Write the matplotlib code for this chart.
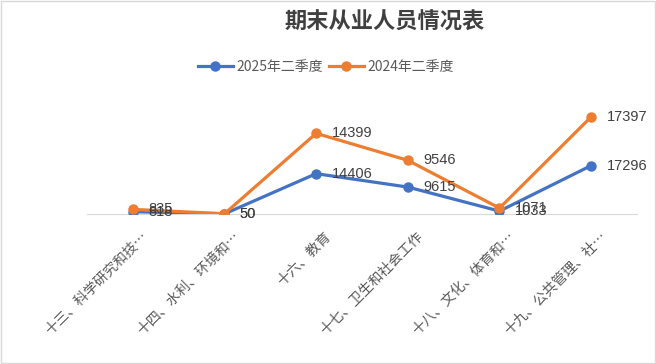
import matplotlib
matplotlib.use('Agg')
import matplotlib.pyplot as plt
from matplotlib.lines import Line2D
from matplotlib.patches import Rectangle
from matplotlib.transforms import ScaledTranslation
import numpy as np

plt.rcParams['font.family'] = ['Noto Sans CJK SC', 'DejaVu Sans']

# data
categories = ['十三、科学研究和技…', '十四、水利、环境和…', '十六、教育',
              '十七、卫生和社会工作', '十八、文化、体育和…', '十九、公共管理、社…']
q2_2025 = [818, 50, 14406, 9615, 1033, 17296]
q2_2024 = [835, 50, 14399, 9546, 1071, 17397]
series_names = ['2025年二季度', '2024年二季度']
colors = ['#4472C4', '#ED7D31']

fig = plt.figure(figsize=(6.56, 3.64), dpi=100)
ax = fig.add_axes([87/656, 150/364, 550/656, 112/364])

x = np.arange(len(categories))
# stacked line chart: the 2024 series sits on top of the 2025 series
base = np.array(q2_2025)
stacked = base + np.array(q2_2024)

for vals, shown, color in [(base, q2_2025, colors[0]), (stacked, q2_2024, colors[1])]:
    ax.plot(x, vals, color=color, lw=2.3, marker='o', markersize=6.5,
            solid_capstyle='round', zorder=3)
    for xi, yi, v in zip(x, vals, shown):
        ax.annotate(str(v), (xi, yi), xytext=(11, 0), textcoords='offset points',
                    ha='left', va='center', fontsize=10.5, color='#404040',
                    family=['Liberation Sans', 'DejaVu Sans'], zorder=4)

ax.set_xlim(-0.5, len(categories) - 0.5)
ax.set_ylim(0, 40000)
for side in ['left', 'right', 'top']:
    ax.spines[side].set_visible(False)
ax.spines['bottom'].set_color('#d9d9d9')
ax.spines['bottom'].set_linewidth(0.8)
ax.set_yticks([])
ax.set_xticks(x)
ax.set_xticklabels(categories, rotation=45, ha='right', va='top',
                   fontsize=10, color='#595959')
ax.tick_params(axis='x', length=0, pad=11)
shift = ScaledTranslation(0.18, 0, fig.dpi_scale_trans)
for lab in ax.get_xticklabels():
    lab.set_transform(lab.get_transform() + shift)

fig.text(385/656, 1 - 22/364, '期末从业人员情况表', ha='center', va='center',
         fontsize=16, fontweight='bold', color='#404040')

handles = [Line2D([], [], color=c, lw=2.3, marker='o', markersize=6.5) for c in colors]
fig.legend(handles, series_names, loc='center', bbox_to_anchor=(326/656, 1 - 67/364),
           ncol=2, frameon=False, fontsize=10, labelcolor='#595959',
           handlelength=2.5, handletextpad=0.3, columnspacing=0.4)

fig.patches.append(Rectangle((0.002, 0.003), 0.996, 0.993, transform=fig.transFigure,
                             fill=False, edgecolor='#d9d9d9', lw=1))

fig.savefig('out.png', dpi=100)
